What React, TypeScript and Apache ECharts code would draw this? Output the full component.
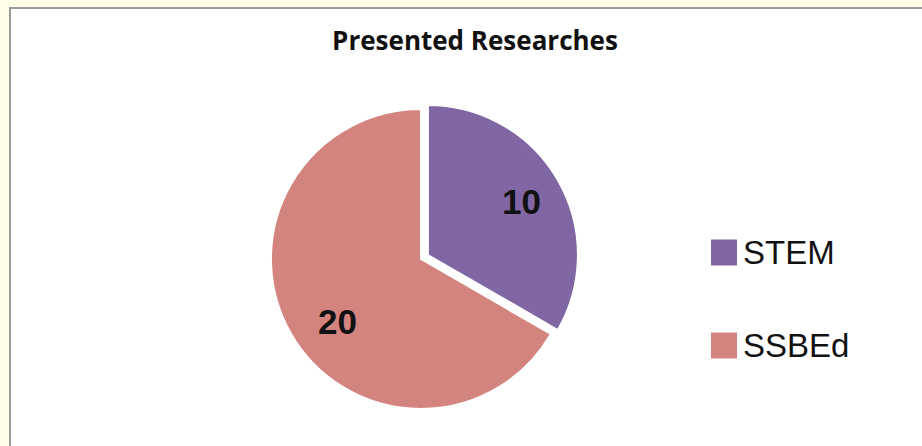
import React, { useEffect, useRef } from "react";
import * as echarts from "echarts";

const categories = ["STEM", "SSBEd"];
const values = [10, 20];
const colors = ["#8066a3", "#d4847f"];
const titleText = "Presented Researches";

export default function App() {
  const ref = useRef<HTMLDivElement>(null);
  useEffect(() => {
    document.body.style.margin = "0";
    const chart = echarts.init(ref.current!, null, { renderer: "svg" });
    const data = categories.map((name, i) => ({
      name,
      value: values[i],
      selected: i === 0,
      itemStyle: { color: colors[i] },
    }));
    const labelOffsets = [
      [0, 0],
      [10, 8],
    ];
    chart.setOption({
      animation: false,
      backgroundColor: "#fffee8",
      graphic: [
        {
          type: "rect",
          shape: { x: 10, y: 8, width: 930, height: 460 },
          style: { fill: "#ffffff", stroke: "#9a9a9a", lineWidth: 2 },
          z: -10,
        },
      ],
      title: {
        text: titleText,
        left: 470,
        top: 22,
        textAlign: "center",
        textStyle: {
          fontFamily: "Open Sans",
          fontWeight: "bold",
          fontSize: 26,
          color: "#111",
        },
      },
      legend: {
        orient: "vertical",
        left: 709,
        top: 236,
        padding: 0,
        itemWidth: 28,
        itemHeight: 28,
        itemGap: 60,
        icon: "rect",
        selectedMode: false,
        data: categories,
        textStyle: {
          fontFamily: "Liberation Sans",
          fontSize: 33,
          color: "#111",
        },
      },
      series: [
        {
          type: "pie",
          center: [421, 259],
          radius: 150,
          startAngle: 90,
          clockwise: true,
          selectedMode: "single",
          selectedOffset: 8,
          silent: true,
          emphasis: { disabled: true },
          label: { show: false },
          labelLine: { show: false },
          itemStyle: { borderColor: "#ffffff", borderWidth: 2 },
          data,
        },
        {
          type: "pie",
          center: [421, 259],
          radius: [60, 150],
          startAngle: 90,
          clockwise: true,
          selectedMode: "single",
          selectedOffset: 8,
          silent: true,
          emphasis: { disabled: true },
          itemStyle: { color: "transparent", borderWidth: 0 },
          labelLine: { show: false },
          label: {
            show: true,
            position: "inside",
            formatter: "{c}",
            fontFamily: "Liberation Sans",
            fontWeight: "bold",
            fontSize: 35,
            color: "#111",
          },
          data: categories.map((name, i) => ({
            name,
            value: values[i],
            selected: i === 0,
            itemStyle: { color: "transparent" },
            label: { offset: labelOffsets[i] },
          })),
        },
      ],
    });
    return () => chart.dispose();
  }, []);
  return (
    <div
      ref={ref}
      style={{ position: "absolute", left: 0, top: 0, width: 922, height: 446 }}
    />
  );
}
